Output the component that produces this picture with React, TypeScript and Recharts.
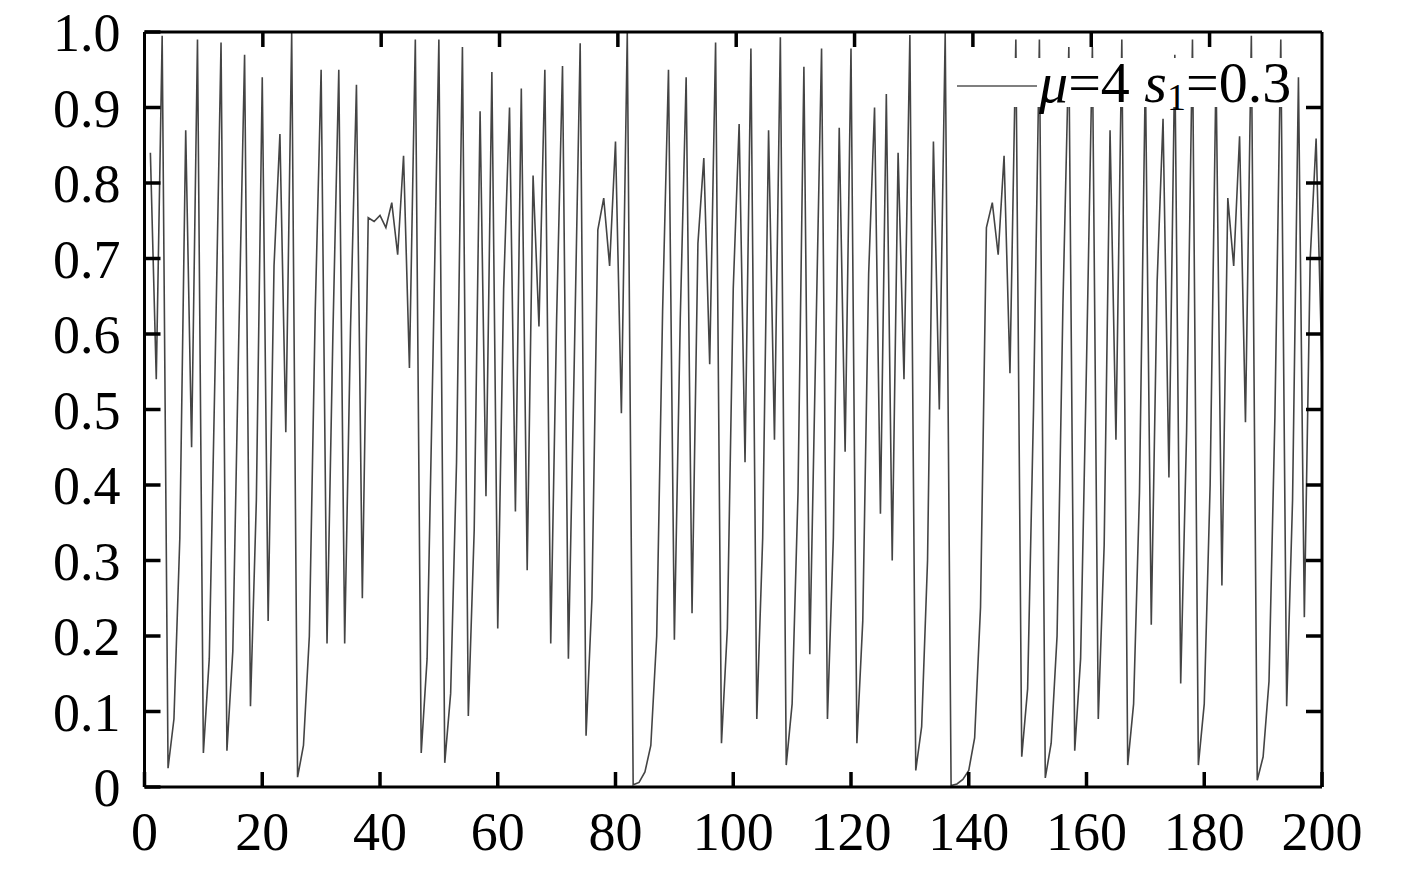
import React from 'react';
import { LineChart, Line, XAxis, YAxis, Legend } from 'recharts';

const steps: number[] = Array.from({ length: 200 }, (_, k) => k + 1);

const values: number[] = [
  0.84, 0.54, 0.995, 0.025, 0.09, 0.33, 0.87, 0.45, 0.99, 0.045,
  0.17, 0.56, 0.986, 0.048, 0.18, 0.59, 0.97, 0.107, 0.38, 0.94,
  0.22, 0.69, 0.865, 0.47, 0.999, 0.013, 0.055, 0.2, 0.63, 0.95,
  0.19, 0.6, 0.95, 0.19, 0.61, 0.93, 0.25, 0.754, 0.749, 0.757,
  0.741, 0.774, 0.705, 0.836, 0.555, 0.99, 0.045, 0.17, 0.57, 0.99,
  0.032, 0.124, 0.43, 0.98, 0.094, 0.34, 0.895, 0.385, 0.947, 0.21,
  0.66, 0.9, 0.365, 0.925, 0.287, 0.81, 0.61, 0.95, 0.19, 0.62,
  0.955, 0.17, 0.565, 0.985, 0.068, 0.25, 0.738, 0.78, 0.69, 0.855,
  0.495, 0.999, 0.003, 0.006, 0.02, 0.055, 0.2, 0.63, 0.95, 0.195,
  0.62, 0.94, 0.23, 0.72, 0.833, 0.56, 0.986, 0.058, 0.21, 0.66,
  0.878, 0.43, 0.978, 0.09, 0.33, 0.87, 0.46, 0.993, 0.029, 0.11,
  0.39, 0.954, 0.176, 0.58, 0.978, 0.09, 0.33, 0.873, 0.444, 0.978,
  0.058, 0.22, 0.68, 0.9, 0.362, 0.918, 0.3, 0.84, 0.54, 0.996,
  0.022, 0.08, 0.3, 0.855, 0.5, 0.999, 0.002, 0.004, 0.01, 0.022,
  0.065, 0.238, 0.741, 0.774, 0.705, 0.836, 0.548, 0.99, 0.04, 0.13,
  0.5, 0.99, 0.012, 0.058, 0.2, 0.64, 0.98, 0.048, 0.17, 0.56,
  0.98, 0.09, 0.32, 0.87, 0.46, 0.99, 0.029, 0.11, 0.39, 0.95,
  0.215, 0.67, 0.885, 0.41, 0.97, 0.137, 0.47, 0.99, 0.029, 0.11,
  0.4, 0.95, 0.267, 0.78, 0.69, 0.862, 0.483, 0.995, 0.009, 0.04,
  0.14, 0.49, 0.99, 0.107, 0.38, 0.94, 0.225, 0.7, 0.859, 0.55,
];

const xTicks: number[] = [0, 20, 40, 60, 80, 100, 120, 140, 160, 180, 200];
const xInnerTicks: number[] = [20, 40, 60, 80, 100, 120, 140, 160, 180];
const yTicks: number[] = [0, 0.1, 0.2, 0.3, 0.4, 0.5, 0.6, 0.7, 0.8, 0.9, 1.0];
const yInnerTicks: number[] = [0.1, 0.2, 0.3, 0.4, 0.5, 0.6, 0.7, 0.8, 0.9];
const seriesName = 'μ=4 s1=0.3';

const data = steps.map((n, k) => ({ n, x: values[k] }));

const FONT = '"Liberation Serif", "Times New Roman", serif';
const tickFont = { fontFamily: FONT, fontSize: 54, fill: '#000' };
const axisLineStyle = { stroke: '#000', strokeWidth: 3 };
const tickLineStyle = { stroke: '#000', strokeWidth: 3.5 };
const blankTick = () => '';

const LegendBox = () => (
  <div style={{ position: 'relative', width: 347, height: 49, background: '#fff' }}>
    <svg width={84} height={49} style={{ position: 'absolute', left: 9, top: 0 }}>
      <line x1={0} y1={28} x2={80} y2={28} stroke="#555" strokeWidth={1.5} />
    </svg>
    <span
      style={{
        position: 'absolute',
        left: 91,
        top: 0,
        fontFamily: FONT,
        fontSize: 58,
        lineHeight: '49px',
        color: '#000',
        whiteSpace: 'nowrap',
      }}
    >
      <i>μ</i>=4 <i>s</i>
      <sub style={{ fontSize: 38, verticalAlign: '-8px', lineHeight: 0, color: '#000' }}>1</sub>=0.3
    </span>
  </div>
);

export default function App() {
  return (
    <div style={{ marginTop: -8 }}>
      <LineChart
        width={1400}
        height={866}
        data={data}
        margin={{ top: 31, right: 85, left: 36.5, bottom: 19 }}
      >
        <XAxis
          dataKey="n"
          type="number"
          domain={[0, 200]}
          ticks={xTicks}
          allowDataOverflow
          height={60}
          axisLine={axisLineStyle}
          tickLine={tickLineStyle}
          tickSize={-15}
          tickMargin={40}
          tick={tickFont}
          interval={0}
        />
        <XAxis
          xAxisId="top"
          orientation="top"
          type="number"
          domain={[0, 200]}
          ticks={xInnerTicks}
          allowDataOverflow
          height={1}
          axisLine={axisLineStyle}
          tickLine={tickLineStyle}
          tickSize={-15}
          tick={{ fontSize: 1, fill: 'none' }}
          tickFormatter={blankTick}
          interval={0}
        />
        <YAxis
          type="number"
          domain={[0, 1]}
          ticks={yTicks}
          allowDataOverflow
          width={100}
          axisLine={axisLineStyle}
          tickLine={tickLineStyle}
          tickSize={-16}
          tickMargin={40}
          tick={tickFont}
          interval={0}
          tickFormatter={(v: number) => (v === 0 ? '0' : v.toFixed(1))}
        />
        <YAxis
          yAxisId="right"
          orientation="right"
          type="number"
          domain={[0, 1]}
          ticks={yInnerTicks}
          allowDataOverflow
          width={1}
          axisLine={axisLineStyle}
          tickLine={tickLineStyle}
          tickSize={-16}
          tick={{ fontSize: 1, fill: 'none' }}
          tickFormatter={blankTick}
          interval={0}
        />
        <Line
          type="linear"
          dataKey="x"
          name={seriesName}
          stroke="#444"
          strokeWidth={1.6}
          dot={false}
          activeDot={false}
          isAnimationActive={false}
        />
        <Legend
          layout="horizontal"
          verticalAlign="middle"
          align="center"
          content={() => <LegendBox />}
          wrapperStyle={{ left: 940, top: 58, width: 347, height: 49 }}
        />
      </LineChart>
    </div>
  );
}
